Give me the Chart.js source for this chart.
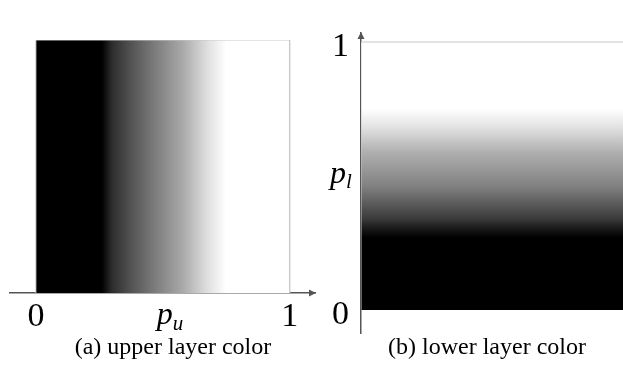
<!DOCTYPE html>
<html><head><meta charset="utf-8">
<script src="https://cdn.jsdelivr.net/npm/chart.js@4"></script>
<style>
html,body{margin:0;padding:0;background:#fff;width:623px;height:367px;overflow:hidden;position:relative}
#wrapA{position:absolute;left:0;top:0;width:336px;height:367px}
#wrapB{position:absolute;left:320px;top:0;width:334px;height:367px}
</style></head><body>
<div id="wrapA"><canvas id="a" width="336" height="367"></canvas></div>
<div id="wrapB"><canvas id="b" width="334" height="367"></canvas></div>
<script>
// ---- data ----
const tickValues = [0, 1];
const tickLabels = ['0', '1'];
const boxX = [0, 0, 1, 1];
const boxY = [0, 1, 1, 0];
const upperStops = [0, 0.26, 0.30, 0.38, 0.46, 0.58, 0.68, 0.75, 1];
const upperGray  = [0, 0, 45, 85, 120, 170, 225, 255, 255];
const lowerStops = [0, 0.27, 0.31, 0.34, 0.46, 0.59, 0.68, 0.75, 1];
const lowerGray  = [0, 0, 30, 58, 128, 176, 225, 255, 255];
const captions = ['(a) upper layer color', '(b) lower layer color'];
const axisNameA = ['p', 'u'];
const axisNameB = ['p', 'l'];

// ---- styling ----
const SERIF = "'Liberation Serif', 'Times New Roman', serif";
const AXIS_COLOR = '#555';
const BOX_COLOR = '#c8c8c8';

function rampFill(axisId, stops, grays) {
  return (c) => {
    const chart = c.chart;
    const s = chart.scales[axisId];
    if (!s || !chart.chartArea) return '#888';
    const p0 = s.getPixelForValue(0), p1 = s.getPixelForValue(1);
    const g = axisId === 'x'
      ? chart.ctx.createLinearGradient(p0, 0, p1, 0)
      : chart.ctx.createLinearGradient(0, p0, 0, p1);
    stops.forEach((t, i) => g.addColorStop(t, `rgb(${grays[i]},${grays[i]},${grays[i]})`));
    return g;
  };
}
const boxData = boxX.map((x, i) => ({x, y: boxY[i]}));

function drawName(ctx, parts, x, baseline, big, small, subDrop) {
  ctx.fillStyle = '#000';
  ctx.textBaseline = 'alphabetic';
  ctx.textAlign = 'left';
  ctx.font = `italic ${big}px ${SERIF}`;
  ctx.fillText(parts[0], x, baseline);
  const w = ctx.measureText(parts[0]).width;
  ctx.font = `italic ${small}px ${SERIF}`;
  ctx.fillText(parts[1], x + w, baseline + subDrop);
}

const decorA = {
  id: 'decorA',
  afterDraw(chart) {
    const ctx = chart.ctx, sx = chart.scales.x, y0 = chart.chartArea.bottom;
    ctx.save();
    ctx.fillStyle = AXIS_COLOR;
    ctx.beginPath();
    ctx.moveTo(sx.right + 1, y0);
    ctx.lineTo(sx.right - 6, y0 - 3.5);
    ctx.lineTo(sx.right - 6, y0 + 3.5);
    ctx.closePath(); ctx.fill();
    drawName(ctx, axisNameA, sx.getPixelForValue(0.476), y0 + 31, 32, 21, 6);
    ctx.restore();
  }
};
const decorB = {
  id: 'decorB',
  afterDraw(chart) {
    const ctx = chart.ctx, sy = chart.scales.y, x0 = chart.chartArea.left;
    ctx.save();
    ctx.fillStyle = AXIS_COLOR;
    ctx.beginPath();
    ctx.moveTo(x0, sy.top - 1);
    ctx.lineTo(x0 - 3.5, sy.top + 6);
    ctx.lineTo(x0 + 3.5, sy.top + 6);
    ctx.closePath(); ctx.fill();
    drawName(ctx, axisNameB, x0 - 31, sy.getPixelForValue(0.474), 32, 21, 5);
    ctx.restore();
  }
};

const common = {
  responsive: false,
  animation: false,
  events: [],
  plugins: { legend: { display: false }, tooltip: { enabled: false } },
  elements: { point: { radius: 0 }, line: { tension: 0 } }
};
const tickFont = { family: SERIF, size: 34, weight: 'normal' };
const titleFont = { family: SERIF, size: 24, weight: 'normal' };

new Chart(document.getElementById('a'), {
  type: 'line',
  data: { datasets: [{
    data: boxData,
    borderColor: BOX_COLOR, borderWidth: 1,
    fill: 'origin',
    backgroundColor: rampFill('x', upperStops, upperGray)
  }]},
  options: Object.assign({}, common, {
    layout: { padding: { left: 10, right: 0, top: 40, bottom: 4.6 } },
    plugins: Object.assign({}, common.plugins, {
      title: { display: true, text: captions[0], position: 'bottom', font: titleFont, color: '#000', padding: 0 }
    }),
    scales: {
      x: {
        type: 'linear', position: 'bottom', min: -0.102, max: 1.1,
        grid: { display: false, drawTicks: false },
        border: { display: true, color: AXIS_COLOR, width: 1.5 },
        afterBuildTicks: (s) => { s.ticks = tickValues.map(v => ({ value: v })); },
        afterFit: (s) => { s.height = 40.6; },
        ticks: { autoSkip: false, maxRotation: 0, padding: 4, color: '#000', font: tickFont,
                 callback: (v) => tickLabels[tickValues.indexOf(v)] }
      },
      y: {
        type: 'linear', position: 'right', min: 0, max: 1,
        grid: { display: false, drawTicks: false },
        border: { display: false },
        ticks: { display: false },
        afterFit: (s) => { s.width = 21; }
      }
    }
  }),
  plugins: [decorA]
});

new Chart(document.getElementById('b'), {
  type: 'line',
  data: { datasets: [{
    data: boxData,
    borderColor: BOX_COLOR, borderWidth: 1,
    fill: 'origin',
    backgroundColor: rampFill('y', lowerStops, lowerGray)
  }]},
  options: Object.assign({}, common, {
    layout: { padding: { left: 0, right: 0, top: 33, bottom: 5.2 } },
    plugins: Object.assign({}, common.plugins, {
      title: { display: true, text: captions[1], position: 'bottom', font: titleFont, color: '#000', padding: 0 }
    }),
    scales: {
      x: { type: 'linear', display: false, min: 0, max: 0.99 },
      y: {
        type: 'linear', position: 'left', min: -0.0858, max: 1.0336,
        grid: { display: false, drawTicks: false },
        border: { display: true, color: AXIS_COLOR, width: 1.5 },
        afterBuildTicks: (s) => { s.ticks = tickValues.map(v => ({ value: v })); },
        afterFit: (s) => { s.width = 41; },
        ticks: { autoSkip: false, padding: 12, labelOffset: 5, color: '#000', font: tickFont,
                 callback: (v) => tickLabels[tickValues.indexOf(v)] }
      }
    }
  }),
  plugins: [decorB]
});
</script>
</body></html>
